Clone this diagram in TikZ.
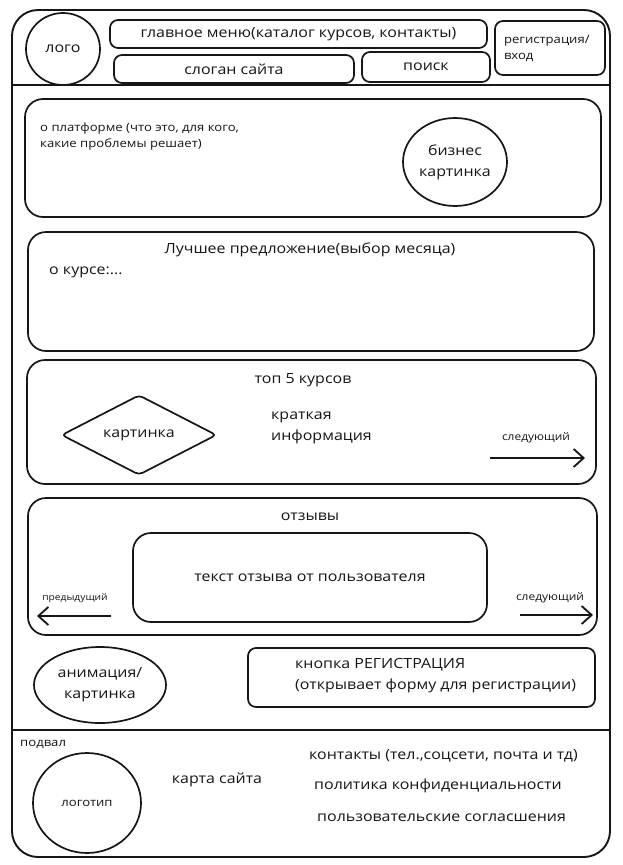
\documentclass[tikz,border=0pt]{standalone}
\usepackage{fontspec}
\setmainfont{Open Sans}[FakeStretch=1.14]
\usetikzlibrary{positioning,arrows.meta,shapes.geometric}
\definecolor{wfInk}{HTML}{161616}
\definecolor{wfPaper}{HTML}{FFFFFF}
\newcommand{\wfnormal}{\fontsize{14}{21}\selectfont}
\newcommand{\wfsmall}{\fontsize{11.5}{16}\selectfont}
\newcommand{\wftiny}{\fontsize{10.5}{12}\selectfont}
\tikzset{
  wf-box/.style={
    draw=wfInk, line width=1.7pt, rounded corners=8pt,
    fill=wfPaper, font=\wfnormal, text=wfInk, align=center,
    inner sep=0pt
  },
  wf-block/.style={wf-box, rounded corners=18pt},
  wf-round/.style={wf-box, ellipse},
  wf-dia/.style={wf-box, diamond, aspect=2, rounded corners=4pt},
  wf-frame/.style={draw=wfInk, line width=1.9pt, rounded corners=26pt},
  wf-rule/.style={draw=wfInk, line width=2.5pt},
  wf-text/.style={font=\wfnormal, text=wfInk, align=left, inner sep=0pt},
  wf-note/.style={font=\wfsmall, text=wfInk, align=left, inner sep=0pt},
  wf-hint/.style={font=\wftiny, text=wfInk, inner sep=0pt},
  wf-nav/.style={-{Straight Barb[length=10pt,width=18pt]}, line width=1.8pt, draw=wfInk}
}

\begin{document}
\begin{tikzpicture}[x=1pt, y=-1pt]
\useasboundingbox (0,0) rectangle (622,865);
\fill[wfPaper] (0,0) rectangle (622,865);

% page frame and section rules
\draw[wf-frame] (12,10) rectangle (610,857);
\draw[wf-rule] (12,85) -- (610,85);
\draw[wf-rule] (12,730) -- (610,730);

% header
\node[wf-round, minimum width=74pt, minimum height=72pt] (logo) at (63,49) {лого};
\node[wf-box, minimum width=377pt, minimum height=28pt] (menu) at (298.5,34)
  {главное меню(каталог курсов, контакты)};
\node[wf-box, minimum width=240pt, minimum height=28pt] (slogan) at (234,69) {слоган сайта};
\node[wf-box, minimum width=128pt, minimum height=30pt] (search) at (426,67) {поиск};
\node[wf-box, font=\wfsmall, minimum width=110pt, minimum height=54pt,
  text width=92pt, align=left] (login) at (550,48) {регистрация/\\вход};

% about block
\node[wf-block, minimum width=576pt, minimum height=118pt] (about) at (313,158) {};
\node[wf-note, anchor=north west] (aboutTxt) at (40,123)
  {о платформе (что это, для кого,\\какие проблемы решает)};
\node[wf-round, minimum width=104pt, minimum height=88pt] (bizImg) at (455,162)
  {бизнес\\картинка};

% best offer block
\node[wf-block, minimum width=566pt, minimum height=119pt] (offer) at (311,291.5) {};
\node[wf-text] (offerTtl) at (310,250) {Лучшее предложение(выбор месяца)};
\node[wf-text, anchor=west] (offerTxt) at (49,272) {о курсе:...};

% top 5 block
\node[wf-block, minimum width=569pt, minimum height=124pt] (top) at (311.5,422) {};
\node[wf-text] (topTtl) at (303,380) {топ 5 курсов};
\node[wf-dia, minimum width=155pt, minimum height=80pt] (topImg) at (139,435) {картинка};
\node[wf-text, anchor=west] (topInfo) at (271,428) {краткая\\информация};
\node[wf-hint] (topNext) at (536,438) {следующий};
\coordinate (topA) at (490,458);
\coordinate (topB) at (585,458);
\draw[wf-nav] (topA) -- (topB);

% reviews block
\node[wf-block, minimum width=569pt, minimum height=137pt] (rev) at (312.5,566.5) {};
\node[wf-text] (revTtl) at (310,517) {отзывы};
\node[wf-block, minimum width=354pt, minimum height=89pt] (revTxt) at (310,577.5)
  {текст отзыва от пользователя};
\node[wf-hint, font=\fontsize{9}{11}\selectfont] (revPrev) at (75,598) {предыдущий};
\node[wf-hint] (revNext) at (550,598) {следующий};
\coordinate (prevA) at (111,616);
\coordinate (prevB) at (37,616);
\coordinate (nextA) at (520,615);
\coordinate (nextB) at (593,615);
\draw[wf-nav] (prevA) -- (prevB);
\draw[wf-nav] (nextA) -- (nextB);

% promo row
\node[wf-round, minimum width=132pt, minimum height=76pt] (anim) at (100,685)
  {анимация/\\картинка};
\node[wf-box, minimum width=347pt, minimum height=59pt] (regBtn) at (421.5,677.5) {};
\node[wf-text, anchor=west] (regTxt) at (295,676)
  {кнопка РЕГИСТРАЦИЯ\\(открывает форму для регистрации)};

% footer
\node[wf-note, anchor=west] (footTtl) at (20,744) {подвал};
\node[wf-round, minimum width=108pt, minimum height=100pt] (footLogo) at (87,803)
  {\wfsmall логотип};
\node[wf-text] (siteMap) at (217,780) {карта сайта};
\node[wf-text, anchor=west] (contacts) at (309,756) {контакты (тел.,соцсети, почта и тд)};
\node[wf-text, anchor=west] (policy) at (314,786) {политика конфиденциальности};
\node[wf-text, anchor=west] (terms) at (317,818) {пользовательские согласшения};
\end{tikzpicture}
\end{document}
